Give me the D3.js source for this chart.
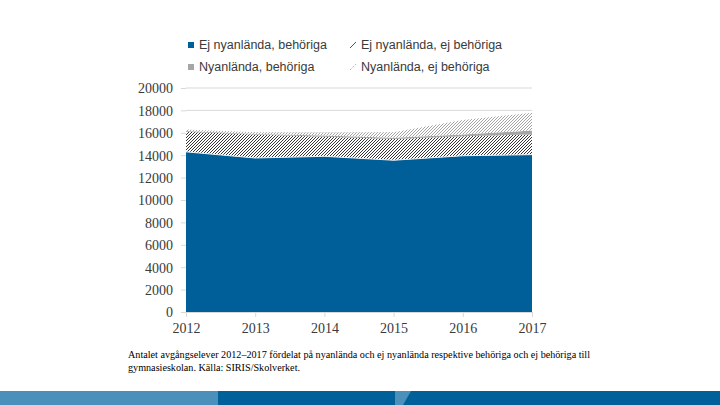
<!DOCTYPE html>
<html><head><meta charset="utf-8">
<script src="https://cdn.jsdelivr.net/npm/d3@7"></script>
<style>body{margin:0;background:#fff}svg{display:block}</style>
</head><body>
<svg id="c" width="720" height="405"></svg>
<script>
const years = [2012, 2013, 2014, 2015, 2016, 2017];
const seriesNames = ["Ej nyanlända, behöriga", "Ej nyanlända, ej behöriga", "Nyanlända, behöriga", "Nyanlända, ej behöriga"];
const ejNyBeh = [14300, 13750, 13900, 13550, 13950, 14050];
const ejNyEjBeh = [1800, 2100, 1750, 1900, 1750, 1800];
const nyBeh = [50, 50, 100, 100, 150, 350];
const nyEjBeh = [150, 150, 250, 500, 1290, 1600];
const yTicks = [0, 2000, 4000, 6000, 8000, 10000, 12000, 14000, 16000, 18000, 20000];
const caption = ["Antalet avgångselever 2012–2017 fördelat på nyanlända och ej nyanlända respektive behöriga och ej behöriga till",
                 "gymnasieskolan. Källa: SIRIS/Skolverket."];

const svg = d3.select("#c");
const defs = svg.append("defs");
function hatch(id, color){
  const p = defs.append("pattern").attr("id", id).attr("patternUnits","userSpaceOnUse")
    .attr("width",3).attr("height",3);
  p.append("rect").attr("width",3).attr("height",3).attr("fill","#fff");
  p.append("path").attr("d","M-1,1 l2,-2 M0,3 l3,-3 M2,4 l2,-2")
    .attr("stroke",color).attr("stroke-width",0.9);
}
hatch("hd", "#1e1e1e");
hatch("hl", "#9a9a9a");

const fills = ["#005f99", "url(#hd)", "#a6a6a6", "url(#hl)"];

const x = d3.scaleLinear().domain([2012, 2017]).range([186, 532]);
const y = d3.scaleLinear().domain([0, 20000]).range([312, 88]);

// gridlines
svg.append("g").selectAll("line").data(yTicks.filter(d=>d>0)).join("line")
  .attr("x1", 186).attr("x2", 532).attr("y1", d=>y(d)).attr("y2", d=>y(d))
  .attr("stroke", "#d9d9d9").attr("stroke-width", 1);

const table = years.map((yr,i)=>({year:yr, s0:ejNyBeh[i], s1:ejNyEjBeh[i], s2:nyBeh[i], s3:nyEjBeh[i]}));
const stack = d3.stack().keys(["s0","s1","s2","s3"])(table);
const area = d3.area().x(d=>x(d.data.year)).y0(d=>y(d[0])).y1(d=>y(d[1]));
svg.append("g").selectAll("path").data(stack).join("path")
  .attr("d", area).attr("fill", (d,i)=>fills[i]);

// thin light separation line on top of blue
svg.append("path").datum(stack[0])
  .attr("d", d3.line().x(d=>x(d.data.year)).y(d=>y(d[1])))
  .attr("fill","none").attr("stroke","#e8f0f5").attr("stroke-width",1);

// y axis
const yAxis = d3.axisLeft(y).tickValues(yTicks).tickSize(5).tickPadding(8).tickFormat(d3.format("d"));
const gy = svg.append("g").attr("transform","translate(186,0)").call(yAxis);
gy.select(".domain").remove();
gy.selectAll("line").attr("stroke","#d9d9d9");
gy.selectAll("text").attr("font-family","'Liberation Serif', serif").attr("font-size",14)
  .attr("fill","#3a3a3a").attr("dy","0.35em").attr("x",-13);

// x axis
const xAxis = d3.axisBottom(x).tickValues(years).tickSize(5).tickPadding(6).tickFormat(d3.format("d"));
const gx = svg.append("g").attr("transform","translate(0,312)").call(xAxis);
gx.select(".domain").attr("stroke","#d9d9d9");
gx.selectAll("line").attr("stroke","#d9d9d9");
gx.selectAll("text").attr("font-family","'Liberation Serif', serif").attr("font-size",14).attr("fill","#3a3a3a");

// legend
const leg = [{x:188, y:45}, {x:350, y:45}, {x:188, y:67}, {x:350, y:67}];
const lg = svg.append("g");
seriesNames.forEach((n,i)=>{
  const p = leg[i];
  if (i===0 || i===2) {
    lg.append("rect").attr("x",p.x).attr("y",p.y-3).attr("width",6).attr("height",6).attr("fill",fills[i]);
  } else {
    lg.append("line").attr("x1",p.x).attr("y1",p.y+3).attr("x2",p.x+6).attr("y2",p.y-3)
      .attr("stroke", i===1 ? "#555" : "#bbb").attr("stroke-width",1).attr("stroke-dasharray", i===3 ? "2,1.5" : null);
  }
  lg.append("text").attr("x",p.x+11).attr("y",p.y).attr("dy","0.35em")
    .attr("font-family","'Liberation Sans', Arial, sans-serif").attr("font-size",12.5)
    .attr("fill","#3a3a3a").text(n);
});

// caption
svg.append("g").selectAll("text").data(caption).join("text")
  .attr("x",128).attr("y",(d,i)=>358 + i*13)
  .attr("font-family","'Liberation Serif', serif").attr("font-size",10).attr("fill","#000")
  .attr("textLength",(d,i)=> i===0 ? 462 : 172).attr("lengthAdjust","spacingAndGlyphs")
  .text(d=>d);

// bottom bar
svg.append("rect").attr("x",0).attr("y",391).attr("width",720).attr("height",14).attr("fill","#00609a");
svg.append("rect").attr("x",0).attr("y",391).attr("width",218).attr("height",14).attr("fill","#4b90bb");
svg.append("path").attr("d","M395,391 L411,391 L403,405 L395,405 Z").attr("fill","#4b90bb");
</script>
</body></html>
